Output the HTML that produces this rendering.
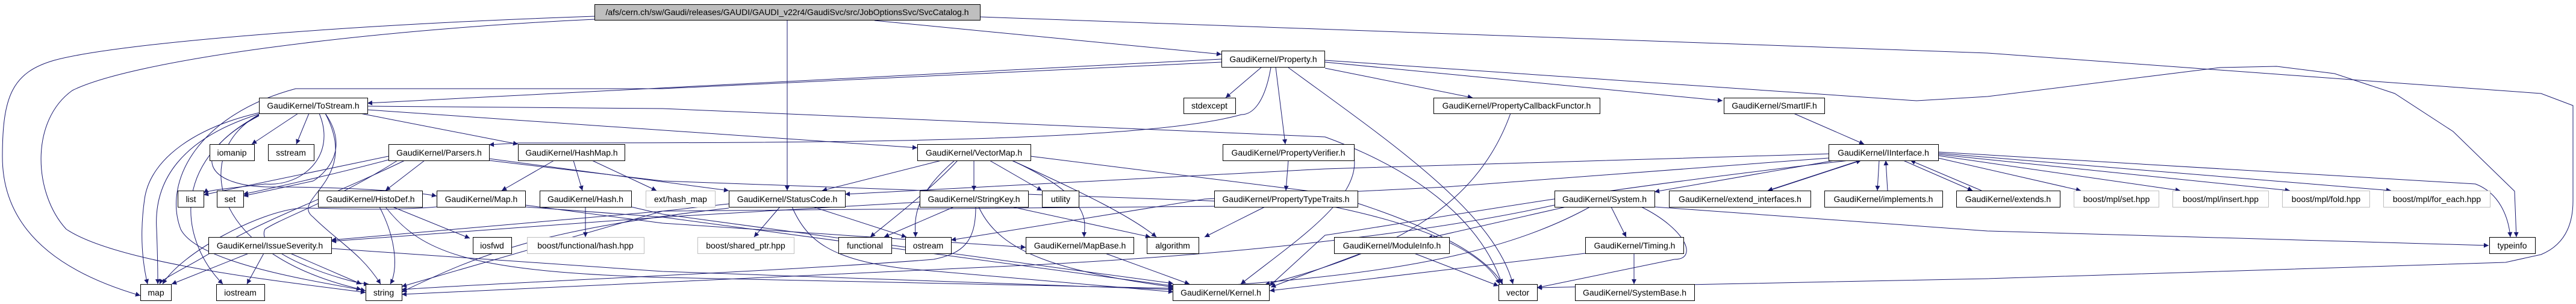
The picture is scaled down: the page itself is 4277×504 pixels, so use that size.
<!DOCTYPE html>
<html><head><meta charset="utf-8"><style>
html,body{margin:0;padding:0;background:#fff;}
svg{display:block;}
text{font-family:"Liberation Sans","DejaVu Sans",sans-serif;font-size:14px;fill:#000;text-anchor:middle;}
.n{fill:#fff;stroke:#000;stroke-width:1;}
.g{fill:#fff;stroke:#bfbfbf;stroke-width:1;}
.e{fill:none;stroke:#191970;stroke-width:1;marker-end:url(#a);}
</style></head><body>
<svg width="4277" height="504" viewBox="0 0 4277 504" xmlns="http://www.w3.org/2000/svg">
<defs><marker id="a" viewBox="0 0 10 10" refX="10" refY="5" markerWidth="10" markerHeight="8" markerUnits="userSpaceOnUse" orient="auto"><path d="M0,0 L10,5 L0,10 z" fill="#191970"/></marker></defs>
<g>
<!-- edges from top -->
<path class="e" d="M987,27 C600,40 200,70 90,100 C20,120 4,160 4,260 C4,400 130,460 233,490"/>
<path class="e" d="M987,32 C600,50 220,100 120,150 C50,200 55,320 110,380 C200,440 500,470 607,485"/>
<path class="e" d="M1307,33 L1307,316"/>
<path class="e" d="M1452,34 L2028,90"/>
<path class="e" d="M1628,28 L3300,88 L4219,155 L4272,175 L4272,333 Q4272,400 4219,422 L4160,435 L3300,462 L2552,477"/>
<!-- Property -->
<path class="e" d="M2200,100 L3182,167 L3300,160 L3686,112 L3780,110 L3876,122 L3976,155 L4073,218 L4175,317 L4178,393"/>
<path class="e" d="M2200,103 L2860,167"/>
<path class="e" d="M2200,113 L2445,162"/>
<path class="e" d="M2095,111 L2035,162"/>
<path class="e" d="M2118,111 L2134,239"/>
<path class="e" d="M2028,98 L610,171"/>
<path class="e" d="M2110,112 C2100,170 2080,190 2061,190 C1900,235 1400,237 863,237 L812,240"/>
<path class="e" d="M2139,112 C2300,230 2480,350 2512,471"/>
<path class="e" d="M2028,103 L1100,147 L491,147 C330,190 270,300 300,380 C330,440 550,470 607,482"/>
<!-- ToStream -->
<path class="e" d="M495,188 L418,239"/>
<path class="e" d="M513,188 L492,239"/>
<path class="e" d="M598,188 L860,239"/>
<path class="e" d="M610,182 L1523,245"/>
<path class="e" d="M610,176 L1100,180 L2200,227 C2400,300 2470,400 2494,471"/>
<path class="e" d="M430,187 C330,210 250,260 240,330 C230,400 240,450 245,471"/>
<path class="e" d="M430,189 C300,230 255,300 260,380 C262,430 262,460 262,471"/>
<path class="e" d="M430,190 C320,250 340,420 600,480"/>
<path class="e" d="M430,191 C280,270 300,400 370,471"/>
<path class="e" d="M530,188 C560,260 500,310 440,305 C400,310 345,315 338,320"/>
<path class="e" d="M540,188 C590,260 520,300 520,300 L404,325"/>
<path class="e" d="M430,192 C300,260 350,310 450,310 C600,310 700,320 725,325"/>
<path class="e" d="M540,188 C600,300 480,330 520,360 C560,400 600,420 632,471"/>
<!-- Parsers -->
<path class="e" d="M645,259 C500,290 400,310 338,323"/>
<path class="e" d="M645,265 C550,290 460,310 404,322"/>
<path class="e" d="M705,266 L640,316"/>
<path class="e" d="M672,266 C560,320 450,360 380,400 C320,440 270,460 265,471"/>
<path class="e" d="M660,266 C560,330 470,360 440,380 C420,420 580,470 612,471"/>
<path class="e" d="M812,263 L1210,316"/>
<path class="e" d="M812,266 L1100,300 L2200,340 C2400,380 2470,430 2490,471"/>
<!-- HashMap -->
<path class="e" d="M920,266 L833,316"/>
<path class="e" d="M952,266 L967,316"/>
<path class="e" d="M983,266 L1090,316"/>
<!-- HistoDef -->
<path class="e" d="M652,343 L780,395"/>
<path class="e" d="M630,343 C660,400 660,450 648,471"/>
<path class="e" d="M640,343 C700,420 780,450 1100,460 L1948,478"/>
<!-- Map -->
<path class="e" d="M725,343 C650,350 550,345 500,345 C430,350 300,420 270,471"/>
<path class="e" d="M872,343 L1100,360 L1948,474"/>
<path class="e" d="M872,340 L1100,370 L1703,410"/>
<!-- Hash -->
<path class="e" d="M972,343 L972,393"/>
<path class="e" d="M1048,343 L1100,355 L1948,470"/>
<!-- IssueSeverity -->
<path class="e" d="M413,420 L285,471"/>
<path class="e" d="M438,420 L410,471"/>
<path class="e" d="M482,420 L600,471"/>
<path class="e" d="M550,412 L1100,450 L1948,480"/>
<!-- StatusCode -->
<path class="e" d="M1295,343 L1252,393"/>
<path class="e" d="M1350,343 L1505,393"/>
<path class="e" d="M1315,343 C1340,400 1380,430 1500,445 L1948,484"/>
<path class="e" d="M1210,338 L1100,350 L550,398"/>
<path class="e" d="M1210,345 C900,380 800,420 667,484"/>
<!-- VectorMap -->
<path class="e" d="M1563,266 L1365,316"/>
<path class="e" d="M1617,266 L1617,316"/>
<path class="e" d="M1643,266 L1730,316"/>
<path class="e" d="M1590,266 C1540,320 1460,380 1445,393"/>
<path class="e" d="M1585,266 C1510,330 1520,370 1520,393"/>
<path class="e" d="M1680,266 C1820,330 1800,370 1800,393"/>
<path class="e" d="M1680,266 C1800,320 1880,360 1920,393"/>
<path class="e" d="M1711,259 L2200,320 C2400,380 2470,430 2495,471"/>
<!-- StringKey -->
<path class="e" d="M1584,343 L1468,393"/>
<path class="e" d="M1625,343 C1660,420 1760,450 1948,476"/>
<path class="e" d="M1620,343 C1620,400 1600,420 1550,430 C1300,450 800,470 667,480"/>
<path class="e" d="M1680,343 L1910,393"/>
<path class="e" d="M1527,335 L1100,360 L550,400"/>
<!-- PropertyVerifier / TypeTraits -->
<path class="e" d="M2139,266 L2135,316"/>
<path class="e" d="M2248,259 C2260,330 2150,400 2060,471"/>
<path class="e" d="M2100,343 L2000,393"/>
<path class="e" d="M2254,340 L1100,350 L667,475"/>
<path class="e" d="M1835,420 L1975,471"/>
<!-- PCF, SmartIF -->
<path class="e" d="M2508,188 C2450,350 2300,420 2100,472"/>
<path class="e" d="M2978,188 L3095,239"/>
<!-- IInterface -->
<path class="e" d="M3036,255 L2200,280 L1403,322"/>
<path class="e" d="M3036,262 L2400,310 L2000,330 L1579,398"/>
<path class="e" d="M3046,266 L2747,318"/>
<path class="e" d="M3070,266 C2600,320 2400,360 2200,390 L2108,474"/>
<path class="e" d="M3088,266 L2935,316"/>
<path class="e" d="M2937,316 L3090,266"/>
<path class="e" d="M3120,266 L3117,316"/>
<path class="e" d="M3134,316 L3131,266"/>
<path class="e" d="M3160,266 L3275,316"/>
<path class="e" d="M3290,316 L3172,266"/>
<path class="e" d="M3218,262 L3455,316"/>
<path class="e" d="M3218,258 L3620,316"/>
<path class="e" d="M3218,256 L3802,316"/>
<path class="e" d="M3218,254 L3970,316"/>
<path class="e" d="M3218,252 L4110,305 C4150,320 4165,360 4168,393"/>
<!-- System -->
<path class="e" d="M2600,343 L2370,395"/>
<path class="e" d="M2675,343 L2700,393"/>
<path class="e" d="M2725,343 C2800,380 2820,430 2780,430 L2552,477"/>
<path class="e" d="M2747,343 L3300,383 L4132,407"/>
<path class="e" d="M2640,343 C2500,420 2300,460 1948,478"/>
<path class="e" d="M2581,340 C2400,380 2100,420 1700,440 L667,488"/>
<!-- ModuleInfo, Timing -->
<path class="e" d="M2260,420 L2110,476"/>
<path class="e" d="M2348,420 L2488,474"/>
<path class="e" d="M2713,420 L2713,471"/>
<path class="e" d="M2632,420 L2108,482"/>
</g>
<g>
<rect x="987.5" y="7.5" width="640" height="26" fill="#bfbfbf" stroke="#000"/><text x="1307" y="25">/afs/cern.ch/sw/Gaudi/releases/GAUDI/GAUDI_v22r4/GaudiSvc/src/JobOptionsSvc/SvcCatalog.h</text>
<rect class="n" x="2028.5" y="84.5" width="171" height="27"/><text x="2114" y="103">GaudiKernel/Property.h</text>
<rect class="n" x="430.5" y="162.5" width="180" height="26"/><text x="520" y="180">GaudiKernel/ToStream.h</text>
<rect class="n" x="1965.5" y="162.5" width="86" height="26"/><text x="2008" y="180">stdexcept</text>
<rect class="n" x="2380.5" y="162.5" width="276" height="26"/><text x="2518" y="180">GaudiKernel/PropertyCallbackFunctor.h</text>
<rect class="n" x="2862.5" y="162.5" width="167" height="26"/><text x="2946" y="180">GaudiKernel/SmartIF.h</text>
<rect class="n" x="348.5" y="239.5" width="74" height="27"/><text x="385" y="258">iomanip</text>
<rect class="n" x="445.5" y="239.5" width="76" height="27"/><text x="483" y="258">sstream</text>
<rect class="n" x="645.5" y="239.5" width="167" height="27"/><text x="729" y="258">GaudiKernel/Parsers.h</text>
<rect class="n" x="860.5" y="239.5" width="177" height="27"/><text x="949" y="258">GaudiKernel/HashMap.h</text>
<rect class="n" x="1523.5" y="239.5" width="188" height="27"/><text x="1617" y="258">GaudiKernel/VectorMap.h</text>
<rect class="n" x="2030.5" y="239.5" width="218" height="27"/><text x="2139" y="258">GaudiKernel/PropertyVerifier.h</text>
<rect class="n" x="3036.5" y="239.5" width="182" height="27"/><text x="3127" y="258">GaudiKernel/IInterface.h</text>
<rect class="n" x="295.5" y="316.5" width="43" height="27"/><text x="317" y="335">list</text>
<rect class="n" x="360.5" y="316.5" width="44" height="27"/><text x="382" y="335">set</text>
<rect class="n" x="528.5" y="316.5" width="173" height="27"/><text x="615" y="335">GaudiKernel/HistoDef.h</text>
<rect class="n" x="725.5" y="316.5" width="147" height="27"/><text x="799" y="335">GaudiKernel/Map.h</text>
<rect class="n" x="896.5" y="316.5" width="152" height="27"/><text x="972" y="335">GaudiKernel/Hash.h</text>
<rect class="g" x="1072.5" y="316.5" width="115" height="27"/><text x="1130" y="335">ext/hash_map</text>
<rect class="n" x="1210.5" y="316.5" width="193" height="27"/><text x="1307" y="335">GaudiKernel/StatusCode.h</text>
<rect class="n" x="1527.5" y="316.5" width="180" height="27"/><text x="1617" y="335">GaudiKernel/StringKey.h</text>
<rect class="n" x="1730.5" y="316.5" width="61" height="27"/><text x="1761" y="335">utility</text>
<rect class="n" x="2016.5" y="316.5" width="238" height="27"/><text x="2135" y="335">GaudiKernel/PropertyTypeTraits.h</text>
<rect class="n" x="2581.5" y="316.5" width="166" height="27"/><text x="2664" y="335">GaudiKernel/System.h</text>
<rect class="n" x="2771.5" y="316.5" width="235" height="27"/><text x="2889" y="335">GaudiKernel/extend_interfaces.h</text>
<rect class="n" x="3029.5" y="316.5" width="196" height="27"/><text x="3127" y="335">GaudiKernel/implements.h</text>
<rect class="n" x="3248.5" y="316.5" width="172" height="27"/><text x="3334" y="335">GaudiKernel/extends.h</text>
<rect class="g" x="3443.5" y="316.5" width="141" height="27"/><text x="3514" y="335">boost/mpl/set.hpp</text>
<rect class="g" x="3607.5" y="316.5" width="159" height="27"/><text x="3687" y="335">boost/mpl/insert.hpp</text>
<rect class="g" x="3789.5" y="316.5" width="145" height="27"/><text x="3862" y="335">boost/mpl/fold.hpp</text>
<rect class="g" x="3957.5" y="316.5" width="177" height="27"/><text x="4046" y="335">boost/mpl/for_each.hpp</text>
<rect class="n" x="346.5" y="393.5" width="204" height="27"/><text x="448" y="412">GaudiKernel/IssueSeverity.h</text>
<rect class="n" x="785.5" y="393.5" width="64" height="27"/><text x="817" y="412">iosfwd</text>
<rect class="g" x="875.5" y="393.5" width="194" height="27"/><text x="972" y="412">boost/functional/hash.hpp</text>
<rect class="g" x="1158.5" y="393.5" width="160" height="27"/><text x="1238" y="412">boost/shared_ptr.hpp</text>
<rect class="n" x="1392.5" y="393.5" width="88" height="27"/><text x="1436" y="412">functional</text>
<rect class="n" x="1503.5" y="393.5" width="76" height="27"/><text x="1541" y="412">ostream</text>
<rect class="n" x="1703.5" y="393.5" width="179" height="27"/><text x="1793" y="412">GaudiKernel/MapBase.h</text>
<rect class="n" x="1904.5" y="393.5" width="86" height="27"/><text x="1947" y="412">algorithm</text>
<rect class="n" x="2215.5" y="393.5" width="191" height="27"/><text x="2311" y="412">GaudiKernel/ModuleInfo.h</text>
<rect class="n" x="2632.5" y="393.5" width="163" height="27"/><text x="2714" y="412">GaudiKernel/Timing.h</text>
<rect class="n" x="4133.5" y="393.5" width="76" height="27"/><text x="4171" y="412">typeinfo</text>
<rect class="n" x="233.5" y="471.5" width="51" height="27"/><text x="259" y="490">map</text>
<rect class="n" x="359.5" y="471.5" width="80" height="27"/><text x="399" y="490">iostream</text>
<rect class="n" x="607.5" y="471.5" width="60" height="27"/><text x="637" y="490">string</text>
<rect class="n" x="1947.5" y="471.5" width="160" height="27"/><text x="2027" y="490">GaudiKernel/Kernel.h</text>
<rect class="n" x="2488.5" y="471.5" width="64" height="27"/><text x="2520" y="490">vector</text>
<rect class="n" x="2615.5" y="471.5" width="198" height="27"/><text x="2714" y="490">GaudiKernel/SystemBase.h</text>
</g>
</svg>
</body></html>
